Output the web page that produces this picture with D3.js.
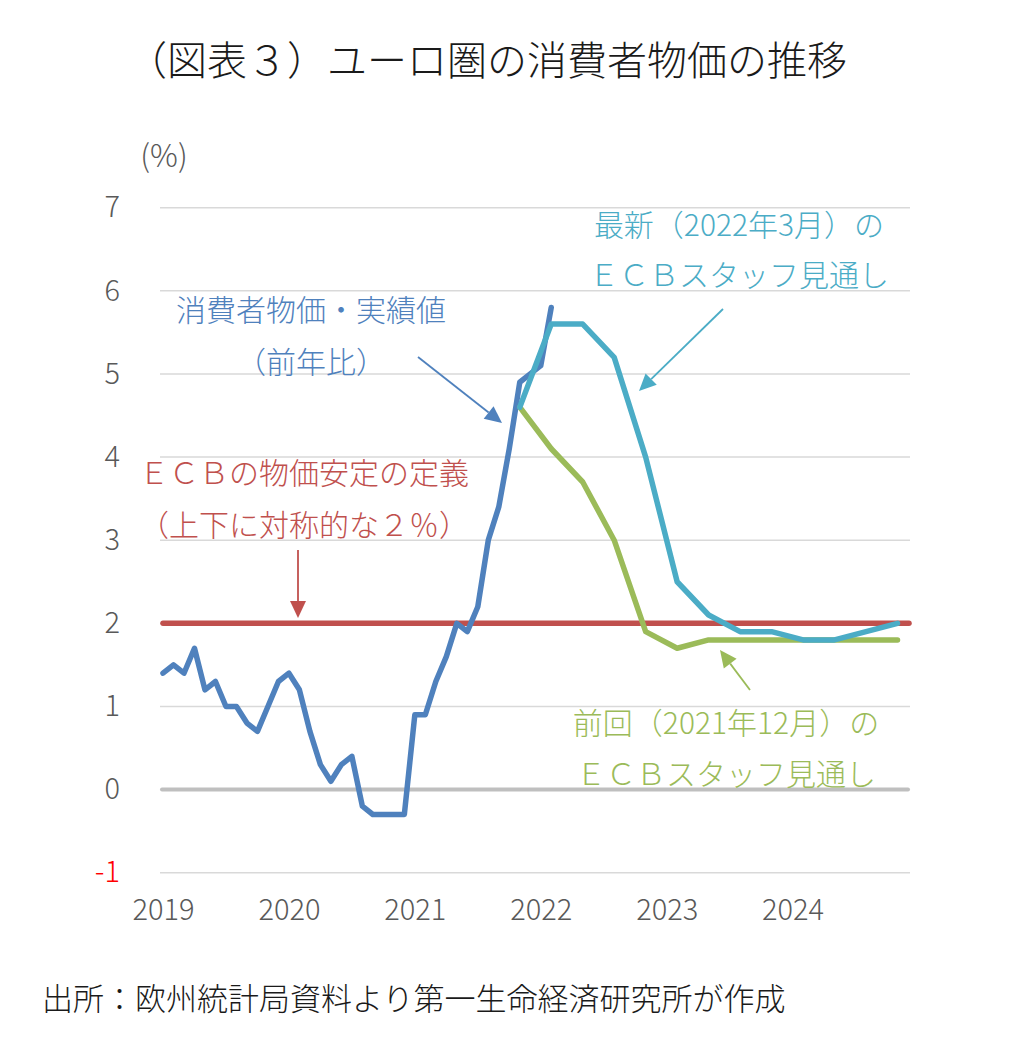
<!DOCTYPE html>
<html>
<head>
<meta charset="utf-8">
<script src="https://cdn.jsdelivr.net/npm/d3@7"></script>
<style>
  body { margin: 0; background: #fff; }
  svg text { font-family: "Noto Sans CJK JP", "Noto Sans", sans-serif; font-weight: 300; }
</style>
</head>
<body>
<div id="chart"></div>
<script>
// Monthly euro-area HICP (% y/y), Jan 2019 .. Feb 2022
const CPI_START = '2019-01';
const cpiValues = [
  1.4, 1.5, 1.4, 1.7, 1.2, 1.3, 1.0, 1.0, 0.8, 0.7, 1.0, 1.3,
  1.4, 1.2, 0.7, 0.3, 0.1, 0.3, 0.4, -0.2, -0.3, -0.3, -0.3, -0.3,
  0.9, 0.9, 1.3, 1.6, 2.0, 1.9, 2.2, 3.0, 3.4, 4.1, 4.9, 5.0,
  5.1, 5.8
];

// ECB staff projections, quarterly
const projQuarters = [
  '2021Q4', '2022Q1', '2022Q2', '2022Q3', '2022Q4', '2023Q1', '2023Q2',
  '2023Q3', '2023Q4', '2024Q1', '2024Q2', '2024Q3', '2024Q4'
];
const projMar2022 = [4.6, 5.6, 5.6, 5.2, 4.0, 2.5, 2.1, 1.9, 1.9, 1.8, 1.8, 1.9, 2.0];
const projDec2021 = [4.6, 4.1, 3.7, 3.0, 1.9, 1.7, 1.8, 1.8, 1.8, 1.8, 1.8, 1.8, 1.8];

const ECB_TARGET = 2;
const yearTicks = [2019, 2020, 2021, 2022, 2023, 2024];
const yTicks = [-1, 0, 1, 2, 3, 4, 5, 6, 7];

const COLORS = {
  cpi: '#4f81bd',
  mar22: '#4bacc6',
  dec21: '#9bbb59',
  target: '#c0504d',
  grid: '#d9d9d9',
  zero: '#bfbfbf',
  axisText: '#595959'
};

const FONT = '"Noto Sans CJK JP", "Noto Sans", sans-serif';
const WIDTH = 1030, HEIGHT = 1042;
const PLOT = { left: 160, right: 910, top: 207.7, bottom: 872.7 };

// month index from Jan 2019
const startYear = +CPI_START.slice(0, 4);
const monthIdx = (y, m) => (y - startYear) * 12 + (m - 1);
const quarterIdx = q => monthIdx(+q.slice(0, 4), (+q.slice(5) - 1) * 3 + 2);

const cpi = cpiValues.map((v, i) => ({ i, v }));
const mar22 = projQuarters.map((q, k) => ({ i: quarterIdx(q), v: projMar2022[k] }));
const dec21 = projQuarters.map((q, k) => ({ i: quarterIdx(q), v: projDec2021[k] }));

const x = d3.scaleLinear().domain([0, 71]).range([163, 908]);
const y = d3.scaleLinear().domain([-1, 7]).range([PLOT.bottom, PLOT.top]);

const svg = d3.select('#chart').append('svg')
  .attr('width', WIDTH)
  .attr('height', HEIGHT)
  .style('display', 'block');

// title
svg.append('text')
  .attr('x', 487).attr('y', 60).attr('dy', '0.38em')
  .attr('text-anchor', 'middle')
  .attr('font-size', 40)
  .attr('fill', '#1a1a1a')
  .text('（図表３）ユーロ圏の消費者物価の推移');

svg.append('text')
  .attr('x', 164).attr('y', 156).attr('dy', '0.36em')
  .attr('text-anchor', 'middle')
  .attr('font-size', 31)
  .attr('fill', COLORS.axisText)
  .text('(%)');

// grid
svg.append('g')
  .selectAll('line')
  .data(yTicks.filter(t => t !== 0))
  .join('line')
  .attr('x1', PLOT.left).attr('x2', PLOT.right)
  .attr('y1', d => y(d)).attr('y2', d => y(d))
  .attr('stroke', COLORS.grid)
  .attr('stroke-width', 1.5);

svg.append('line')
  .attr('x1', PLOT.left + 2).attr('x2', PLOT.right - 2)
  .attr('y1', y(0)).attr('y2', y(0))
  .attr('stroke', COLORS.zero)
  .attr('stroke-width', 4)
  .attr('stroke-linecap', 'round');

// y axis labels
const yAxis = svg.append('g')
  .attr('transform', `translate(${PLOT.left},0)`)
  .call(d3.axisLeft(y).tickValues(yTicks).tickSize(0).tickPadding(40).tickFormat(d => String(d)));
yAxis.select('.domain').remove();
yAxis.selectAll('text')
  .attr('font-size', 29)
  .attr('font-family', FONT)
  .attr('fill', d => (d < 0 ? '#ff0000' : COLORS.axisText));

// x axis labels
const xAxis = svg.append('g')
  .attr('transform', `translate(0,${PLOT.bottom})`)
  .call(d3.axisBottom(x)
    .tickValues(yearTicks.map(yr => monthIdx(yr, 1)))
    .tickSize(0).tickPadding(27)
    .tickFormat(i => startYear + Math.round(i / 12)));
xAxis.select('.domain').remove();
xAxis.selectAll('text')
  .attr('font-size', 29)
  .attr('font-family', FONT)
  .attr('fill', COLORS.axisText);

// target line
svg.append('line')
  .attr('x1', PLOT.left + 3).attr('x2', PLOT.right - 1)
  .attr('y1', y(ECB_TARGET)).attr('y2', y(ECB_TARGET))
  .attr('stroke', COLORS.target)
  .attr('stroke-width', 5.5)
  .attr('stroke-linecap', 'round');

const line = d3.line().x(d => x(d.i)).y(d => y(d.v));

[[cpi, COLORS.cpi], [dec21, COLORS.dec21], [mar22, COLORS.mar22]].forEach(([data, color]) => {
  svg.append('path')
    .datum(data)
    .attr('d', line)
    .attr('fill', 'none')
    .attr('stroke', color)
    .attr('stroke-width', 5.5)
    .attr('stroke-linejoin', 'round')
    .attr('stroke-linecap', 'round');
});

// annotations
function label(lines, cx, color) {
  lines.forEach(([txt, cy]) => {
    svg.append('text')
      .attr('x', cx).attr('y', cy).attr('dy', '0.38em')
      .attr('text-anchor', 'middle')
      .attr('font-size', 30)
      .attr('fill', color)
      .text(txt);
  });
}

function arrow(x1, y1, x2, y2, color) {
  const ang = Math.atan2(y2 - y1, x2 - x1);
  const len = 17, half = 8;
  const bx = x2 - len * Math.cos(ang), by = y2 - len * Math.sin(ang);
  svg.append('line')
    .attr('x1', x1).attr('y1', y1).attr('x2', bx).attr('y2', by)
    .attr('stroke', color).attr('stroke-width', 1.8);
  const px = -Math.sin(ang) * half, py = Math.cos(ang) * half;
  svg.append('path')
    .attr('d', `M${x2},${y2}L${bx + px},${by + py}L${bx - px},${by - py}Z`)
    .attr('fill', color);
}

label([['消費者物価・実績値', 310], ['（前年比）', 362]], 311, COLORS.cpi);
arrow(418, 357, 502, 423, COLORS.cpi);

label([['最新（2022年3月）の', 225], ['ＥＣＢスタッフ見通し', 275]], 739, COLORS.mar22);
arrow(723, 309, 639, 391, COLORS.mar22);

label([['ＥＣＢの物価安定の定義', 473], ['（上下に対称的な２％）', 525]], 304, COLORS.target);
arrow(298, 550, 298, 618, COLORS.target);

label([['前回（2021年12月）の', 723], ['ＥＣＢスタッフ見通し', 774]], 726, COLORS.dec21);
arrow(750, 690, 720, 650, COLORS.dec21);

// source
svg.append('text')
  .attr('x', 42).attr('y', 998).attr('dy', '0.38em')
  .attr('font-size', 31)
  .attr('fill', '#1a1a1a')
  .text('出所：欧州統計局資料より第一生命経済研究所が作成');
</script>
</body>
</html>
